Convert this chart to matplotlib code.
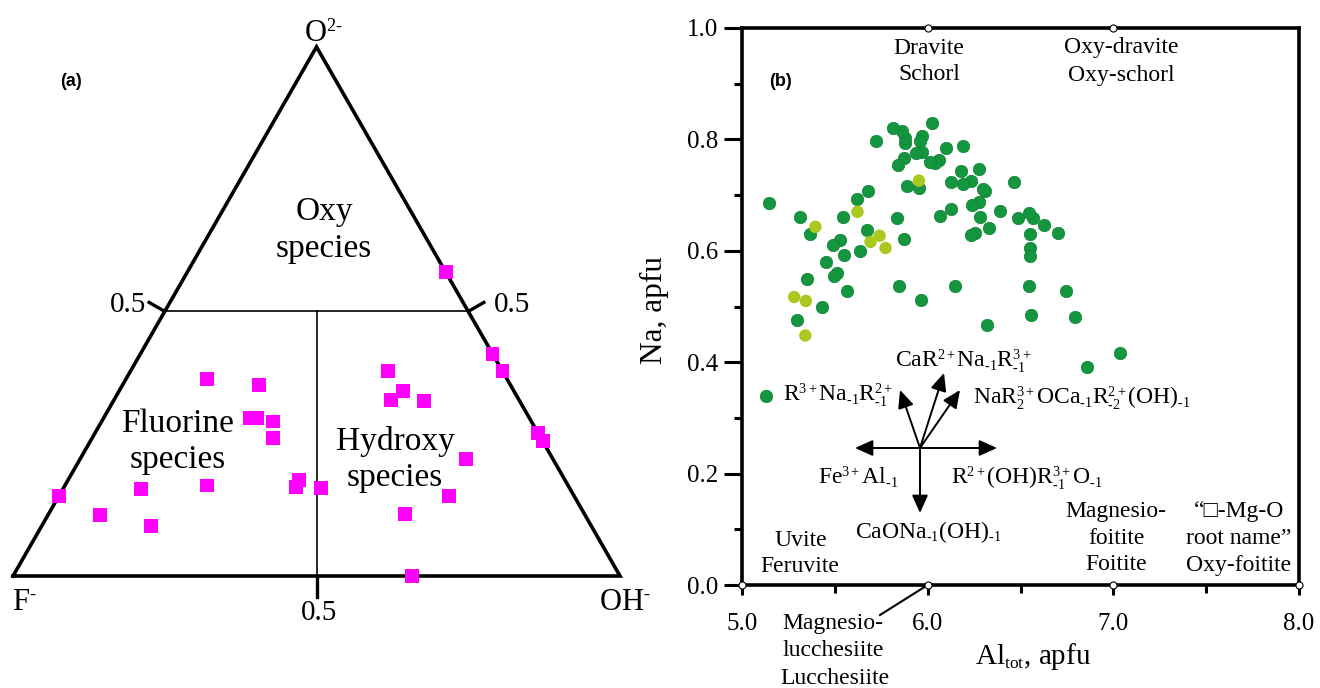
import numpy as np
import matplotlib
matplotlib.use("Agg")
import matplotlib.pyplot as plt
import matplotlib._mathtext as _mt

_mt.SHRINK_FACTOR = 0.6

plt.rcParams['font.family'] = ['Liberation Serif', 'DejaVu Serif']
plt.rcParams['mathtext.fontset'] = 'custom'
plt.rcParams['mathtext.rm'] = 'Liberation Serif'
plt.rcParams['mathtext.it'] = 'Liberation Serif:italic'
plt.rcParams['mathtext.bf'] = 'Liberation Serif:bold'
plt.rcParams['mathtext.default'] = 'rm'

# ---------------- data: (a) ternary F - OH - O ----------------
tern_F = [0.000, 0.000, 0.000, 0.000, 0.000, 0.143, 0.206, 0.296, 0.342,
          0.189, 0.183, 0.211, 0.158, 0.494, 0.414, 0.460, 0.449, 0.426,
          0.441, 0.595, 0.707, 0.799, 0.725, 0.848, 0.438, 0.449, 0.410]
tern_OH = [0.426, 0.580, 0.613, 0.730, 0.745, 0.636, 0.642, 0.587, 0.658,
           0.424, 0.468, 0.457, 0.511, 0.134, 0.225, 0.241, 0.253, 0.282,
           0.298, 0.234, 0.129, 0.086, 0.181, 0.000, 0.380, 0.382, 0.424]
tern_O = [0.574, 0.420, 0.387, 0.270, 0.255, 0.221, 0.152, 0.117, 0.000,
          0.387, 0.350, 0.332, 0.331, 0.372, 0.361, 0.299, 0.299, 0.292,
          0.261, 0.171, 0.164, 0.115, 0.094, 0.152, 0.182, 0.169, 0.166]

# ---------------- data: (b) Na vs Al_tot ----------------
al_dark = [5.146, 5.314, 5.368, 5.542, 5.618, 5.681, 5.836, 5.674, 5.528, 5.492,
           5.634, 5.551, 5.450, 5.514, 5.494, 5.351, 5.564, 5.431, 5.297, 5.872,
           5.845, 5.966, 6.146, 6.321, 6.548, 6.743, 6.555, 6.792, 6.551, 6.551,
           6.551, 6.700, 6.624, 6.570, 6.548, 6.489, 6.467, 6.389, 6.332, 6.254,
           6.236, 6.281, 6.277, 6.241, 6.308, 6.296, 6.232, 6.191, 6.123, 6.182,
           6.276, 6.188, 6.124, 6.065, 6.097, 6.059, 6.038, 6.011, 6.022, 5.970,
           5.957, 5.971, 5.939, 5.953, 5.890, 5.876, 5.879, 5.863, 5.813, 5.872,
           5.840, 5.723, 5.128, 7.034, 6.858]
na_dark = [0.686, 0.661, 0.630, 0.661, 0.693, 0.708, 0.659, 0.637, 0.620, 0.611,
           0.599, 0.593, 0.579, 0.560, 0.554, 0.550, 0.527, 0.499, 0.475, 0.621,
           0.536, 0.512, 0.537, 0.467, 0.536, 0.527, 0.485, 0.481, 0.605, 0.591,
           0.631, 0.632, 0.647, 0.659, 0.667, 0.659, 0.724, 0.672, 0.641, 0.632,
           0.629, 0.661, 0.687, 0.683, 0.707, 0.711, 0.726, 0.720, 0.724, 0.744,
           0.747, 0.789, 0.675, 0.663, 0.784, 0.763, 0.757, 0.759, 0.829, 0.806,
           0.797, 0.777, 0.775, 0.713, 0.717, 0.794, 0.802, 0.815, 0.821, 0.766,
           0.754, 0.797, 0.339, 0.417, 0.392]
al_light = [5.395, 5.622, 5.741, 5.692, 5.773, 5.281, 5.344, 5.341, 5.953]
na_light = [0.643, 0.670, 0.627, 0.616, 0.605, 0.517, 0.510, 0.448, 0.726]

# end-member positions marked on the frame
end_al = [6.0, 7.0, 5.0, 6.0, 7.0, 8.0]
end_na = [1.0, 1.0, 0.0, 0.0, 0.0, 0.0]

x_ticks = [5.0, 6.0, 7.0, 8.0]
x_ticklabels = ["5.0", "6.0", "7.0", "8.0"]
y_ticks = [0.0, 0.2, 0.4, 0.6, 0.8, 1.0]
y_ticklabels = ["0.0", "0.2", "0.4", "0.6", "0.8", "1.0"]

fig = plt.figure(figsize=(13.2, 6.88), dpi=100)

# ================= panel (a) =================
PX, PY = 607.0, 611.0
ax1 = fig.add_axes([0, 0, 0.5, 1])
ax1.set_xlim(-13 / PX, (660 - 13) / PX)
ax1.set_ylim((576 - 688) / PY, 576 / PY)
ax1.axis('off')

def tern(f, oh, o):
    f, oh, o = np.asarray(f), np.asarray(oh), np.asarray(o)
    s = f + oh + o
    return oh / s + o / s / 2.0, (o / s) * np.sqrt(3) / 2.0

def p1(px, py):
    return (px - 13) / PX, (576 - py) / PY

# outline
vx, vy = tern([1, 0, 0, 1], [0, 1, 0, 0], [0, 0, 1, 0])
ax1.plot(vx, vy, color='black', lw=2.6, solid_joinstyle='miter', zorder=2)
# boundaries
hx, hy = tern([0.5, 0.0], [0.0, 0.5], [0.5, 0.5])
ax1.plot(hx, hy, color='black', lw=1.2, zorder=2)
mx, my = tern([0.5, 0.25], [0.5, 0.25], [0.0, 0.5])
ax1.plot([mx[0], mx[0]], [my[0], my[1]], color='black', lw=1.2, zorder=2)
# 0.5 ticks
tl = 18.0
ax1.plot([0.5, 0.5], [0, -21 / PY], color='black', lw=2.4)
lx, ly = tern(0.5, 0.0, 0.5)
ax1.plot([lx, lx - 0.866 * tl / PX], [ly, ly + 0.5 * tl / PY], color='black', lw=2.4)
rx, ry = tern(0.0, 0.5, 0.5)
ax1.plot([rx, rx + 0.866 * tl / PX], [ry, ry + 0.5 * tl / PY], color='black', lw=2.4)

# data
tx, ty = tern(tern_F, tern_OH, tern_O)
ax1.scatter(tx, ty, marker='s', s=100, c='#FF00FF', edgecolors='none',
            zorder=4, clip_on=False)

# labels
FS_T = 22
ax1.text(*p1(304, 42), r'O$^{\text{2-}}$', fontsize=FS_T, ha='left', va='baseline')
ax1.text(*p1(12, 610), r'F$^{\text{-}}$', fontsize=FS_T, ha='left', va='baseline')
ax1.text(*p1(599, 610), r'OH$^{\text{-}}$', fontsize=FS_T, ha='left', va='baseline')
ax1.text(*p1(319, 620), '0.5', fontsize=21, ha='center', va='baseline')
ax1.text(*p1(146, 312), '0.5', fontsize=21, ha='right', va='baseline')
ax1.text(*p1(494, 312), '0.5', fontsize=21, ha='left', va='baseline')

FS_R = 24
for txt, px, py in [("Oxy", 324, 220), ("species", 324, 257),
                    ("Fluorine", 178, 432), ("species", 178, 468),
                    ("Hydroxy", 395, 450), ("species", 395, 486)]:
    ax1.text(*p1(px, py), txt, fontsize=FS_R, ha='center', va='baseline')

fig.text(71 / 1320, 1 - 82 / 688, '(a)', family='Liberation Sans',
         weight='bold', fontsize=13, ha='center', va='center')

# ================= panel (b) =================
L, R, T, B = 742.0, 1299.0, 28.0, 585.0
ax2 = fig.add_axes([L / 1320, (688 - B) / 688, (R - L) / 1320, (B - T) / 688])
ax2.set_xlim(5.0, 8.0)
ax2.set_ylim(0.0, 1.0)

def p2(px, py):
    return 5.0 + (px - L) / (R - L) * 3.0, (B - py) / (B - T)

for sp in ax2.spines.values():
    sp.set_linewidth(2.6)
ax2.set_xticks(x_ticks)
ax2.set_xticklabels(x_ticklabels)
ax2.set_xticks([5.5, 6.5, 7.5], minor=True)
ax2.set_yticks(y_ticks)
ax2.set_yticklabels(y_ticklabels)
ax2.set_yticks([0.1, 0.3, 0.5, 0.7, 0.9], minor=True)
ax2.tick_params(axis='x', which='major', direction='out', length=7, width=2.2,
                pad=13, labelsize=18)
ax2.tick_params(axis='x', which='minor', direction='out', length=5.5, width=2.2)
ax2.tick_params(axis='y', which='major', direction='out', length=13, width=2.2,
                pad=4, labelsize=18)
ax2.tick_params(axis='y', which='minor', direction='out', length=6, width=2.2)
ax2.tick_params(top=False, right=False)

ax2.set_xlabel(r'Al$_{\mathrm{tot}}$, apfu', fontsize=21)
ax2.xaxis.set_label_coords((1033 - L) / (R - L), -(641 - B) / (B - T))
ax2.set_ylabel('Na, apfu', fontsize=22.5)
ax2.yaxis.set_label_coords((669 - L) / (R - L), (B - 310) / (B - T))

ax2.scatter(al_dark, na_dark, s=80, c='#14963F', edgecolors='#0E7F35',
            linewidths=0.5, zorder=3)
ax2.scatter(al_light, na_light, s=80, c='#AAC81E', edgecolors='none', zorder=4)

ax2.scatter(end_al, end_na, s=26, facecolors='white', edgecolors='black',
            linewidths=0.8, zorder=6, clip_on=False)

# leader line to Lucchesiite
ax2.plot([6.0, p2(880, 615)[0]], [0.0, p2(880, 615)[1]], color='black', lw=1.5,
         clip_on=False, zorder=5)

# exchange vectors
cx, cy = p2(920, 448)
tips = [p2(855, 448), p2(997, 448), p2(920, 513), p2(900, 390),
        p2(944, 373), p2(960, 390)]
for tx_, ty_ in tips:
    ax2.annotate('', xy=(tx_, ty_), xytext=(cx, cy),
                 arrowprops=dict(arrowstyle='-|>,head_length=0.6,head_width=0.27',
                                 mutation_scale=18, lw=1.4, color='black',
                                 shrinkA=0, shrinkB=0))

FS_A = 17
m1 = r'$_{\text{-1}}$'
ax2.text(*p2(893, 402), r'R$^{3+}$Na' + m1 + r'R$^{2+}_{\text{-1}}$', fontsize=FS_A,
         ha='right', va='baseline')
ax2.text(*p2(895, 368), r'CaR$^{2+}$Na' + m1 + r'R$^{3+}_{\text{-1}}$', fontsize=FS_A,
         ha='left', va='baseline')
ax2.text(*p2(973, 404), r'NaR$_{2}^{3+}$OCa' + m1 + r'R$^{2+}_{\text{-2}}$(OH)' + m1,
         fontsize=FS_A, ha='left', va='baseline')
ax2.text(*p2(818, 484), r'Fe$^{3+}$Al' + m1, fontsize=FS_A, ha='left', va='baseline')
ax2.text(*p2(951, 484), r'R$^{2+}$(OH)R$^{3+}_{\text{-1}}$O' + m1, fontsize=FS_A,
         ha='left', va='baseline')
ax2.text(*p2(928, 538), r'CaONa' + m1 + '(OH)' + m1, fontsize=FS_A,
         ha='center', va='baseline')

FS_L = 17
names = [("Dravite", 929, 48), ("Schorl", 929, 75),
         ("Oxy-dravite", 1121, 48), ("Oxy-schorl", 1121, 75),
         ("Uvite", 801, 540), ("Feruvite", 800, 566),
         ("Magnesio-", 1116, 511), ("foitite", 1116, 538), ("Foitite", 1116, 565),
         ("\u201c\u25a1-Mg-O", 1239, 511), ("root name\u201d", 1239, 538),
         ("Oxy-foitite", 1239, 565),
         ("Magnesio-", 833, 623), ("lucchesiite", 833, 651), ("Lucchesiite", 835, 679)]
for txt, px, py in names:
    ax2.text(*p2(px, py), txt, fontsize=FS_L, ha='center', va='center',
             clip_on=False)

fig.text(781 / 1320, 1 - 82 / 688, '(b)', family='Liberation Sans',
         weight='bold', fontsize=13, ha='center', va='center')

fig.savefig('out.png', dpi=100)
